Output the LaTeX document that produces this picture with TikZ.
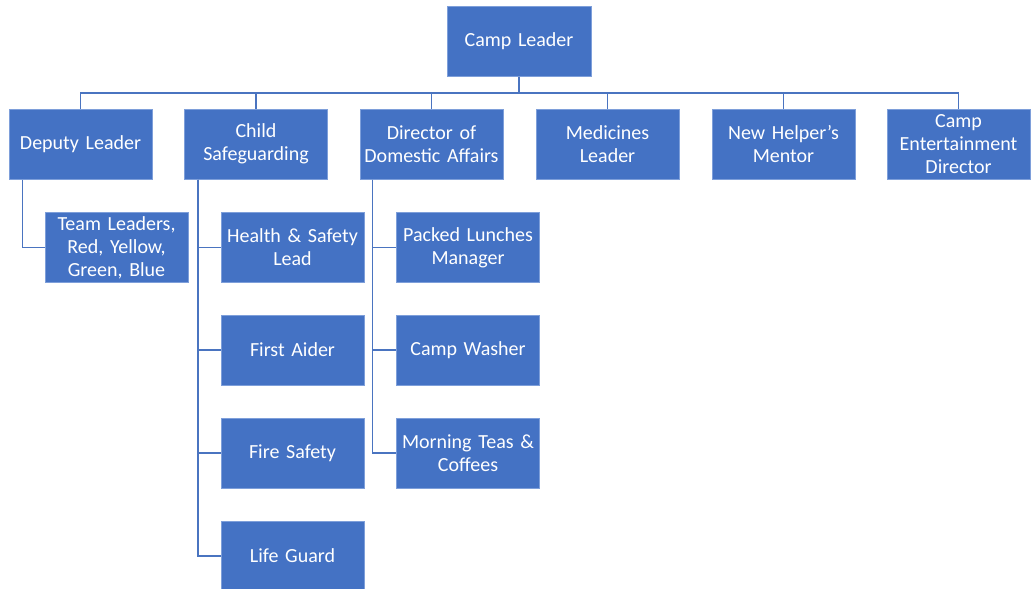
\documentclass[tikz,border=0pt]{standalone}
\usepackage{fontspec}
\setmainfont{Carlito}
\definecolor{boxblue}{HTML}{4472C4}
\definecolor{boxedge}{HTML}{7E9FDA}
\definecolor{linkblue}{HTML}{4A74C0}
\begin{document}
\begin{tikzpicture}[x=1pt,y=-1pt,
  role/.style={rectangle, fill=boxblue, draw=boxedge, line width=1pt,
    minimum width=143pt, minimum height=70pt, inner sep=1pt,
    text=white, align=center, text width=141pt,
    font=\fontsize{20}{23}\selectfont},
  link/.style={draw=linkblue, line width=1.6pt}]
\useasboundingbox (0,0) rectangle (1031,589);
% top
\node[role, minimum width=144pt] (camp) at (519,41.5) {Camp Leader};
% second row
\node[role] (dep) at (80.5,144) {Deputy Leader};
\node[role] (cs)  at (256,144) {Child\\Safeguarding};
\node[role] (dda) at (431.5,144) {Director of\\Domestic Affairs};
\node[role] (med) at (607.5,144) {Medicines\\Leader};
\node[role] (nhm) at (783.5,144) {New Helper’s\\Mentor};
\node[role] (ced) at (958.5,144) {Camp\\Entertainment\\Director};
% third level
\node[role] (team) at (116.5,247.5) {Team Leaders,\\Red, Yellow,\\Green, Blue};
\node[role] (hs)   at (292.5,247.5) {Health \& Safety\\Lead};
\node[role] (fa)   at (292.5,350) {First Aider};
\node[role] (fs)   at (292.5,453) {Fire Safety};
\node[role] (lg)   at (292.5,556) {Life Guard};
\node[role] (plm)  at (468,247.5) {Packed Lunches\\Manager};
\node[role] (cw)   at (468,350) {Camp Washer};
\node[role] (mtc)  at (468,453) {Morning Teas \&\\Coffees};
% connectors
\foreach \c in {dep,cs,dda,med,nhm,ced}
  \draw[link] (camp.south) -- ++(0,16) -| (\c.north);
\draw[link] ([xshift=14pt]dep.south west) |- (team.west);
\foreach \c in {hs,fa,fs,lg}
  \draw[link] ([xshift=14pt]cs.south west) |- (\c.west);
\foreach \c in {plm,cw,mtc}
  \draw[link] ([xshift=13pt]dda.south west) |- (\c.west);
\end{tikzpicture}
\end{document}
